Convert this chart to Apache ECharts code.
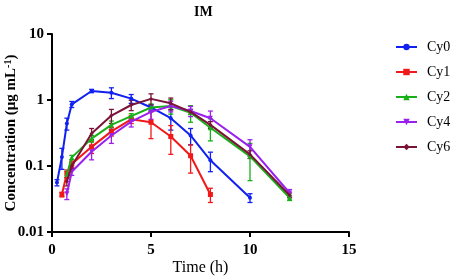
<!DOCTYPE html>
<html>
<head>
<meta charset="utf-8">
<script src="https://cdn.jsdelivr.net/npm/echarts@6/dist/echarts.min.js"></script>
<style>
html, body { margin: 0; padding: 0; background: #fff; }
#main { width: 454px; height: 279px; }
</style>
</head>
<body>
<div id="main"></div>
<script>
// data (mean and SD, ug/mL)
var cy0Time = [0.25, 0.5, 0.75, 1, 2, 3, 4, 5, 6, 7, 8, 10];
var cy0Mean = [0.056, 0.137, 0.44, 0.86, 1.37, 1.29, 1.05, 0.77, 0.53, 0.29, 0.122, 0.033];
var cy0Sd = [0.006, 0.048, 0.09, 0.09, 0.08, 0.24, 0.16, 0.08, 0.18, 0.08, 0.04, 0.005];

var cy1Time = [0.5, 0.75, 1, 2, 3, 4, 5, 6, 7, 8];
var cy1Mean = [0.037, 0.077, 0.107, 0.195, 0.335, 0.51, 0.46, 0.28, 0.143, 0.037];
var cy1Sd = [0.003, 0.01, 0.012, 0.04, 0.05, 0.07, 0.2, 0.13, 0.065, 0.009];

var cy2Time = [0.75, 1, 2, 3, 4, 5, 6, 7, 8, 10, 12];
var cy2Mean = [0.075, 0.135, 0.26, 0.42, 0.57, 0.77, 0.81, 0.64, 0.38, 0.14, 0.033];
var cy2Sd = [0.008, 0.01, 0.03, 0.06, 0.05, 0.1, 0.2, 0.18, 0.14, 0.08, 0.003];

var cy4Time = [0.75, 1, 2, 3, 4, 5, 6, 7, 8, 10, 12];
var cy4Mean = [0.038, 0.082, 0.164, 0.29, 0.47, 0.66, 0.81, 0.68, 0.53, 0.195, 0.039];
var cy4Sd = [0.007, 0.01, 0.04, 0.07, 0.08, 0.15, 0.15, 0.12, 0.15, 0.055, 0.005];

var cy6Time = [0.75, 1, 2, 3, 4, 5, 6, 7, 8, 10, 12];
var cy6Mean = [0.058, 0.1, 0.31, 0.58, 0.84, 1.04, 0.89, 0.66, 0.42, 0.15, 0.036];
var cy6Sd = [0.008, 0.01, 0.06, 0.14, 0.15, 0.2, 0.18, 0.05, 0.05, 0.02, 0.003];

var xTicks = [0, 5, 10, 15];

var font = 'Liberation Serif';

var groups = [
    { name: 'Cy0', t: cy0Time, m: cy0Mean, sd: cy0Sd, color: '#1020f0', symbol: 'circle', size: 4 },
    { name: 'Cy1', t: cy1Time, m: cy1Mean, sd: cy1Sd, color: '#f01818', symbol: 'rect', size: 5 },
    { name: 'Cy2', t: cy2Time, m: cy2Mean, sd: cy2Sd, color: '#18b018', symbol: 'triangle', size: 5 },
    { name: 'Cy4', t: cy4Time, m: cy4Mean, sd: cy4Sd, color: '#9a20ee', symbol: 'path://M0,0L10,0L5,10Z', size: 5 },
    { name: 'Cy6', t: cy6Time, m: cy6Mean, sd: cy6Sd, color: '#7a1436', symbol: 'diamond', size: 4 }
];

function errBar(params, api) {
    var x = api.value(0);
    var lo = Math.max(api.value(1), 0.0105);
    var hi = api.value(2);
    var p1 = api.coord([x, lo]);
    var p2 = api.coord([x, hi]);
    var c = api.visual('color');
    var w = 2.5;
    var st = { stroke: c, lineWidth: 1.3 };
    return {
        type: 'group',
        children: [
            { type: 'line', shape: { x1: p1[0], y1: p1[1], x2: p2[0], y2: p2[1] }, style: st },
            { type: 'line', shape: { x1: p1[0] - w, y1: p1[1], x2: p1[0] + w, y2: p1[1] }, style: st },
            { type: 'line', shape: { x1: p2[0] - w, y1: p2[1], x2: p2[0] + w, y2: p2[1] }, style: st }
        ]
    };
}

var series = [];
// draw order: Cy6 underneath
var order = [4, 0, 1, 2, 3];
order.forEach(function(k) {
    var g = groups[k];
    var errData = g.t.map(function(t, i) {
        return [t, g.m[i] - g.sd[i], g.m[i] + g.sd[i]];
    });
    series.push({
        name: g.name + ' err',
        type: 'custom',
        renderItem: errBar,
        itemStyle: { color: g.color },
        data: errData,
        z: 2 + k * 0.1,
        silent: true
    });
    series.push({
        name: g.name,
        type: 'line',
        data: g.t.map(function(t, i) { return [t, g.m[i]]; }),
        color: g.color,
        symbol: g.symbol,
        symbolSize: g.size,
        showAllSymbol: true,
        lineStyle: { width: 2, color: g.color },
        itemStyle: { color: g.color },
        z: 3 + k * 0.1
    });
});

var myChart = echarts.init(document.getElementById('main'));

var option = {
    backgroundColor: '#fff',
    animation: false,
    title: {
        text: 'IM',
        left: 189,
        top: 0,
        textStyle: { fontFamily: font, fontSize: 14, fontWeight: 'bold', color: '#000' }
    },
    legend: {
        orient: 'vertical',
        left: 390,
        top: 34,
        itemWidth: 21,
        itemHeight: 8,
        itemGap: 9,
        data: groups.map(function(g) { return g.name; }),
        textStyle: { fontFamily: font, fontSize: 14, color: '#000', lineHeight: 16, padding: [0, 0, 0, 5] }
    },
    grid: { left: 52, right: 105, top: 34, bottom: 47, containLabel: false, outerBoundsMode: 'none' },
    xAxis: {
        type: 'value',
        min: 0,
        max: 15,
        interval: 5,
        name: 'Time (h)',
        nameLocation: 'middle',
        nameGap: 28,
        nameMoveOverlap: false,
        nameTextStyle: { fontFamily: font, fontSize: 16, color: '#000' },
        splitLine: { show: false },
        axisLine: { lineStyle: { color: '#000', width: 2 } },
        axisTick: { length: 5, lineStyle: { color: '#000', width: 2 } },
        axisLabel: {
            fontFamily: font, fontSize: 15, fontWeight: 'bold', color: '#000', margin: 11,
            formatter: function(v) { return xTicks.indexOf(v) >= 0 ? String(v) : ''; }
        }
    },
    yAxis: {
        type: 'log',
        logBase: 10,
        min: 0.01,
        max: 10,
        name: 'Concentration (μg mL{sup|-1})',
        nameLocation: 'middle',
        nameGap: 32,
        nameMoveOverlap: false,
        nameTextStyle: {
            fontFamily: font, fontSize: 15, fontWeight: 'bold', color: '#000',
            rich: {
                sup: { fontFamily: font, fontSize: 10, fontWeight: 'bold', color: '#000', verticalAlign: 'top', padding: [0, 0, 7, 0] }
            }
        },
        splitLine: { show: false },
        axisLine: { lineStyle: { color: '#000', width: 2 } },
        axisTick: { length: 5, lineStyle: { color: '#000', width: 2 } },
        axisLabel: {
            fontFamily: font, fontSize: 15, fontWeight: 'bold', color: '#000', margin: 8,
            formatter: function(v) { return String(parseFloat(v.toPrecision(3))); }
        }
    },
    series: series
};

if (option && typeof option === 'object') {
    myChart.setOption(option, true);
}
</script>
</body>
</html>
